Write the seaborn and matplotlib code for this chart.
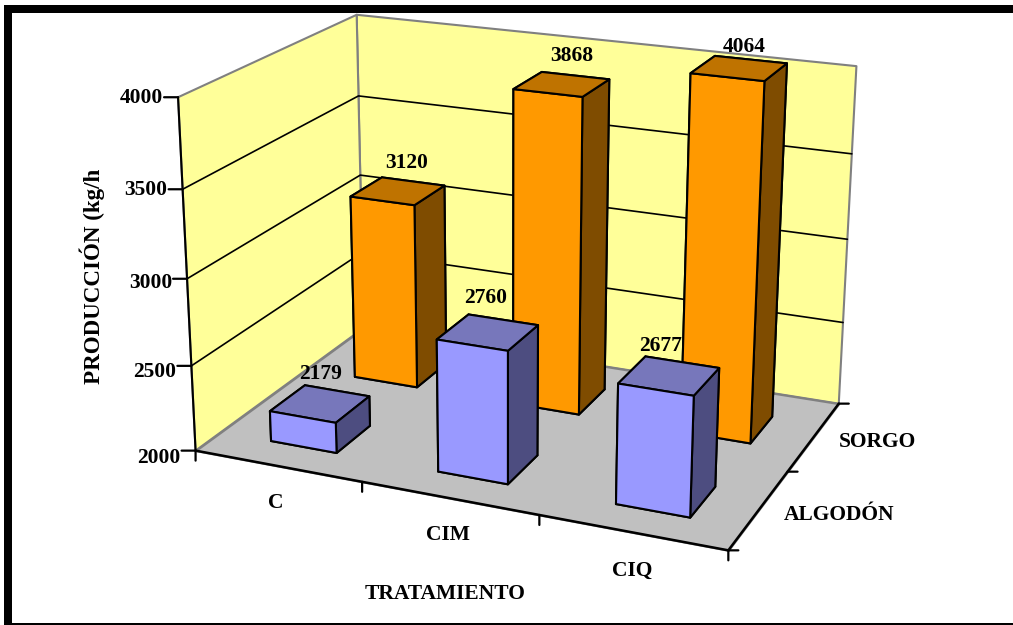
import numpy as np
import matplotlib
matplotlib.use("Agg")
import matplotlib.pyplot as plt
import seaborn as sns
from matplotlib.patches import Rectangle
from mpl_toolkits.mplot3d import proj3d
from mpl_toolkits.mplot3d.art3d import Poly3DCollection

# data
tratamientos = ["C", "CIM", "CIQ"]
cultivos = ["ALGODÓN", "SORGO"]
algodon = [2179, 2760, 2677]
sorgo = [3120, 3868, 4064]
z_ticks = [2000, 2500, 3000, 3500, 4000]

# label offsets in pixels
off_algodon = [(1, 30), (-2, 34), (-9, 30)]
off_sorgo = [(9, 28), (10, 28), (5, 21)]
off_z = [-7, -6, -4, -1, -1]
off_x = [(-2, -37), (-1, -37), (0, -39)]
off_y = [-5, -6]

sns.set_theme(style="white")
plt.rcParams["font.family"] = ["Liberation Serif", "DejaVu Serif"]
plt.rcParams["font.weight"] = "bold"

NEGRO = "#000000"
W, H = 1013, 625
fig = plt.figure(figsize=(W / 100, H / 100), dpi=100, facecolor="white")

# camera, found by matching the corners of the box
cx, cy, scale = 525.8, 258.5, 4012.0
ax = fig.add_axes([0, 0, H / W, 1], projection="3d", computed_zorder=False)
ax.set_xlim(0, 3)
ax.set_ylim(0, 2)
ax.set_zlim(2000, 4000)
ax.view_init(elev=19.298, azim=-67.094, roll=-0.162)
ax.set_proj_type("persp", focal_length=0.5658)
ax.set_box_aspect((np.exp(0.4248), np.exp(0.0175), 1))
vl = ax.viewLim
S = scale * vl.width
ax.set_position([(cx + vl.x0 * scale) / W, (H - cy + vl.y0 * scale) / H, S / W, S / H])
ax.set_axis_off()

x_off, bar_w = 0.31, 0.3994
y_off, bar_d = 0.2725, 0.3983

# walls and floor
ax.add_collection3d(Poly3DCollection([[(0, 0, 2000), (0, 2, 2000), (0, 2, 4000), (0, 0, 4000)],
                                      [(0, 2, 2000), (3, 2, 2000), (3, 2, 4000), (0, 2, 4000)]],
                                     facecolors="#FFFF99", edgecolors="#808080", linewidths=1.5, zorder=1))
ax.add_collection3d(Poly3DCollection([[(0, 0, 2000), (3, 0, 2000), (3, 2, 2000), (0, 2, 2000)]],
                                     facecolors="#C0C0C0", edgecolors="#808080", linewidths=1.5, zorder=1))

# gridlines
for z in z_ticks[1:-1]:
    ax.plot([0, 0, 3], [0, 2, 2], [z, z, z], color=NEGRO, lw=1.2, zorder=2)

# axis lines
ax.plot([0, 0], [0, 0], [2000, 4000], color=NEGRO, lw=1.5, zorder=3)
ax.plot([0, 3, 3], [0, 0, 2], [2000, 2000, 2000], color=NEGRO, lw=1.8, zorder=3)

# bars, faces are -z +z -y +y -x +x
caras_algodon = ["#9999FF", "#7777BB", "#9999FF", "#9999FF", "#4D4D80", "#4D4D80"]
caras_sorgo = ["#FF9900", "#BF7300", "#FF9900", "#FF9900", "#7F4C00", "#7F4C00"]
xs = np.arange(len(tratamientos)) + x_off
ax.bar3d(xs, np.full(3, 1 + y_off), np.full(3, 2000), bar_w, bar_d, np.array(sorgo) - 2000,
         color=caras_sorgo * 3, shade=False, edgecolor=NEGRO, linewidth=1.5, zorder=5)
ax.bar3d(xs, np.full(3, y_off), np.full(3, 2000), bar_w, bar_d, np.array(algodon) - 2000,
         color=caras_algodon * 3, shade=False, edgecolor=NEGRO, linewidth=1.5, zorder=6)

M = ax.get_proj()


def note(text, x, y, z, dx, dy, **kw):
    px, py, _ = proj3d.proj_transform(x, y, z, M)
    ax.annotate(text, (px, py), xytext=(dx, dy), textcoords="offset pixels",
                annotation_clip=False, fontsize=15.5, fontweight="bold", color=NEGRO, zorder=10, **kw)


def tick(x, y, z, dx, dy):
    px, py, _ = proj3d.proj_transform(x, y, z, M)
    ax.annotate("", (px, py), xytext=(dx, dy), textcoords="offset pixels", annotation_clip=False, zorder=9,
                arrowprops=dict(arrowstyle="-", color=NEGRO, lw=1.6, shrinkA=0, shrinkB=0))


# z axis
for z, dy in zip(z_ticks, off_z):
    tick(0, 0, z, -14, 0)
    note(str(z), 0, 0, z, -15, dy, ha="right", va="center")

# x axis
for i in range(len(tratamientos) + 1):
    tick(i, 0, 2000, 0, -10)
for i, name in enumerate(tratamientos):
    note(name, i + 0.5, 0, 2000, off_x[i][0], off_x[i][1], ha="center", va="center")

# depth axis
for j in range(len(cultivos) + 1):
    tick(3, j, 2000, 10, 0)
for j, name in enumerate(cultivos):
    note(name, 3, j + 0.5, 2000, 25, off_y[j], ha="left", va="center")

# value labels
for j, (vals, offs) in enumerate([(algodon, off_algodon), (sorgo, off_sorgo)]):
    for i, v in enumerate(vals):
        note(str(v), i + x_off + bar_w / 2, j + y_off + bar_d / 2, v, offs[i][0], offs[i][1], ha="center", va="center")

fig.text(92 / W, 1 - 276 / H, "PRODUCCIÓN (kg/h", rotation=90, ha="center", va="center", fontsize=16.6, fontweight="bold", color=NEGRO)
fig.text(445 / W, 1 - 594 / H, "TRATAMIENTO", ha="center", va="center", fontsize=15.5, fontweight="bold", color=NEGRO)

# black frame, open on the right
for l, t, r, b in [(4, 5, W, 13), (4, 5, 12, H), (4, 623, W, H)]:
    fig.add_artist(Rectangle((l / W, 1 - b / H), (r - l) / W, (b - t) / H, transform=fig.transFigure, fc=NEGRO, ec="none"))

fig.savefig("out.png", dpi=100)
